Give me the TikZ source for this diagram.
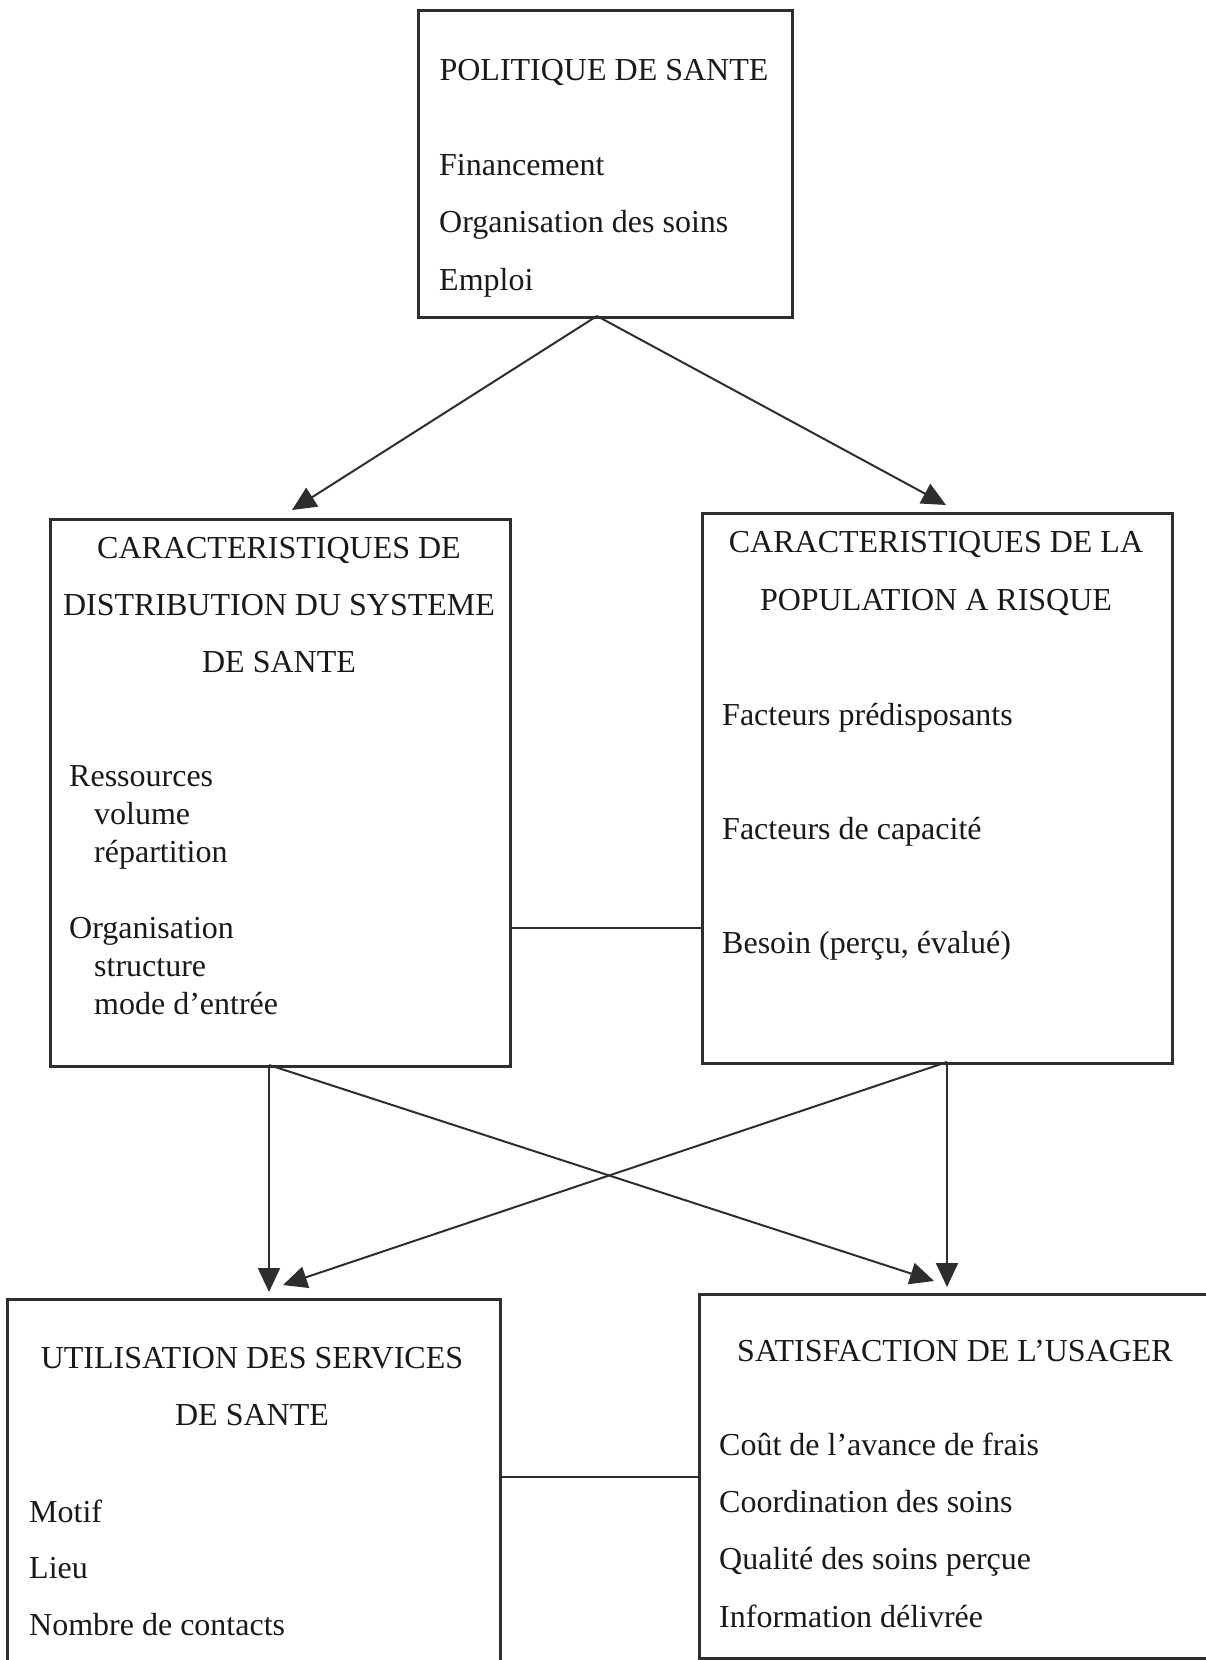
\documentclass[tikz,border=0pt]{standalone}
\usepackage{fontspec}
\setmainfont{Liberation Serif}
\usetikzlibrary{arrows.meta}
\definecolor{ink}{HTML}{2E2E2E}
\tikzset{
  box/.style={draw=ink,line width=2.8pt,anchor=north west,inner sep=0pt},
  txt/.style={text=black!90,inner sep=0pt,font=\fontsize{32}{38}\selectfont},
  head/.style={txt,anchor=base},
  item/.style={txt,anchor=base west},
  link/.style={draw=ink,line width=2pt},
  arr/.style={link,-{Triangle[length=24pt,width=22pt]}}
}

\begin{document}
\begin{tikzpicture}[x=1pt,y=-1pt]
\clip[use as bounding box](0,0)rectangle(1206,1660);
% boxes
\node[box,minimum width=374pt,minimum height=307pt](pol)at(417,9){};
\node[box,minimum width=460pt,minimum height=547pt](dist)at(49,518){};
\node[box,minimum width=470pt,minimum height=550pt](pop)at(701,512){};
\node[box,minimum width=493pt,minimum height=420pt](util)at(6,1298){};
\node[box,minimum width=514pt,minimum height=364pt](sat)at(698,1293){};
% texts
\node[head](pol-t)at(604,80){POLITIQUE DE SANTE};
\foreach \t [count=\i] in {Financement,Organisation des soins,Emploi}
  \node[item](pol-\i)at(439,117.5+57.5*\i){\t};
\foreach \t [count=\i] in {CARACTERISTIQUES DE,DISTRIBUTION DU SYSTEME,DE SANTE}
  \node[head](dist-t\i)at(279,501+57*\i){\t};
\node[item](dist-1)at(69,786){Ressources};
\node[item](dist-2)at(94,824){volume};
\node[item](dist-3)at(94,862){répartition};
\node[item](dist-4)at(69,938){Organisation};
\node[item](dist-5)at(94,976){structure};
\node[item](dist-6)at(94,1014){mode d’entrée};
\node[head](pop-t1)at(936,552){CARACTERISTIQUES DE LA};
\node[head](pop-t2)at(936,610){POPULATION A RISQUE};
\foreach \t [count=\i] in {Facteurs prédisposants,Facteurs de capacité,{Besoin (perçu, évalué)}}
  \node[item](pop-\i)at(722,611+114*\i){\t};
\node[head](util-t1)at(252,1368){UTILISATION DES SERVICES};
\node[head](util-t2)at(252,1425){DE SANTE};
\foreach \t [count=\i] in {Motif,Lieu,Nombre de contacts}
  \node[item](util-\i)at(29,1465.5+56.5*\i){\t};
\node[head](sat-t)at(955,1361){SATISFACTION DE L’USAGER};
\foreach \t [count=\i] in {Coût de l’avance de frais,Coordination des soins,Qualité des soins perçue,Information délivrée}
  \node[item](sat-\i)at(719,1398+57.3*\i){\t};
% connectors
\coordinate(pol-out)at(597,316);
\coordinate(dist-in)at(292,510);
\coordinate(pop-in)at(946,505);
\coordinate(dist-out)at(269,1065);
\coordinate(pop-out)at(947,1062);
\coordinate(util-in1)at(269,1292);
\coordinate(util-in2)at(283,1285);
\coordinate(sat-in1)at(934,1281);
\coordinate(sat-in2)at(947,1287);
\coordinate(mid1)at(600,928);
\coordinate(mid2)at(600,1477);
\draw[arr](pol-out)--(dist-in);
\draw[arr](pol-out)--(pop-in);
\draw[arr](dist-out)--(util-in1);
\draw[arr](dist-out)--(sat-in1);
\draw[arr](pop-out)--(util-in2);
\draw[arr](pop-out)--(sat-in2);
\draw[link](dist.east|-mid1)--(pop.west|-mid1);
\draw[link](util.east|-mid2)--(sat.west|-mid2);
\end{tikzpicture}
\end{document}
